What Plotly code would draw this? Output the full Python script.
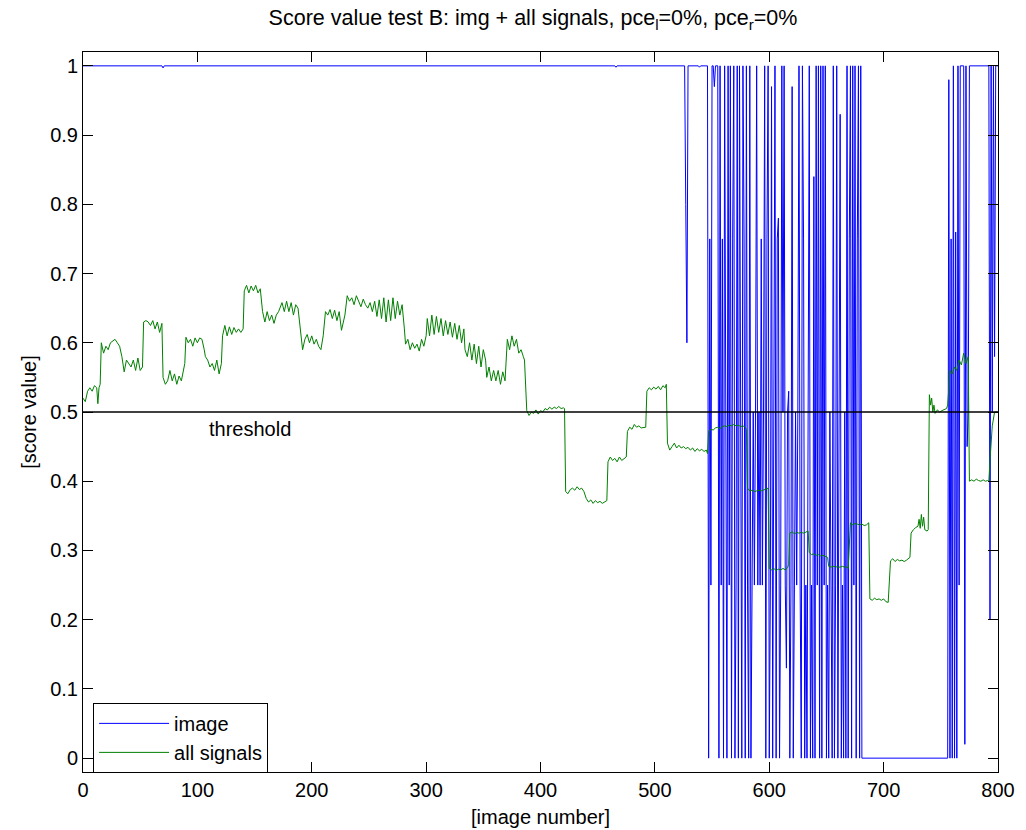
import plotly.graph_objects as go

# ---------------- data ----------------
# "image" score: sparse part (constant stretches) + dense switching parts
img_x_a = [0, 69, 70, 71, 465, 466, 467, 526, 527, 528, 529, 538, 539, 540, 544]
img_y_a = [1, 1, 0.997, 1, 1, 0.998, 1, 1, 0.8, 0.6, 1, 1, 0.998, 1, 1]

img_start_b = 545
img_y_b = [1, 1, 0, 0.75, 0.25, 1, 1, 0.97, 1, 1, 1,            # 545-555
           0, 1, 0.25, 0.75, 0, 1, 0.5, 0, 1, 0.25,              # 556-565
           1, 0, 0.75, 1, 0, 0.25, 1, 0, 1, 0.5,                 # 566-575
           0, 1, 0.75, 0, 1, 0.25, 0, 1, 0, 0.25,                # 576-585
           0.5, 0.25, 0.5, 1, 0.25, 0.5, 0.25, 0.75, 0.25, 0.5,  # 586-595
           1, 0, 0.75, 1, 0, 0.25, 0.97, 0, 0.5, 1,              # 596-605
           0, 0.75, 0.78, 0, 0.25, 1, 0.5, 1, 0.25, 0.13,        # 606-615
           0.5, 0.53, 0, 0.25, 0.97, 0, 0.25, 0.5, 0.25, 0.5,    # 616-625
           1, 0.25, 0, 1, 0.75, 0, 0.25, 0, 0.5, 1,              # 626-635
           0, 0.25, 0, 0.84, 0, 1, 0.25, 1, 0, 1,                # 636-645
           0, 1, 0.25, 1, 0, 0.25, 0, 0.5, 0.25, 0,              # 646-655
           1, 0, 0.25, 1, 0, 0.5, 0.93, 0, 0.25, 0,              # 656-665
           0.5, 0, 1, 0, 0.75, 1, 0, 1, 0.25, 1,                 # 666-675
           0, 0.75, 1, 0, 1, 0]                                  # 676-681

img_x_c = [682, 755]
img_y_c = [0, 0]

img_start_d = 756
img_y_d = [0, 0.98, 0, 0.75, 0, 1, 0, 0.76, 0, 1,                # 756-765
           0.25, 1, 1, 1, 1, 0.02, 1, 0.45, 0.5, 1,              # 766-775
           1, 1, 1, 1, 1, 1, 1, 1, 1, 1,                         # 776-785
           1, 1, 1, 1, 1, 1, 1, 0.2, 1, 0.5,                     # 786-795
           1, 0.58, 1, 1, 1]                                     # 796-800

# "all signals" score
sig_x = [0, 2, 4, 6, 8, 10, 12, 13, 14, 15,
         16, 18, 20, 22, 24, 26, 28, 30, 32, 34, 35,
         36, 38, 40, 42, 44, 46, 48, 50, 52,
         53, 55, 57, 59, 61, 63, 65, 67, 69,
         70, 72, 74, 76, 78, 80, 82, 84, 86, 88, 89,
         90, 92, 94, 96, 98, 100, 102, 104, 106,
         107, 109, 111, 113, 115, 117, 119, 121,
         122, 124, 126, 128, 130, 132, 134, 136, 138, 140,
         141, 143, 145, 147, 149, 151, 153, 155, 156,
         157, 159, 161, 163, 165, 167, 169, 171,
         172, 174, 176, 178, 180, 182, 184, 186, 188, 190,
         192, 194, 196, 198, 200, 202, 204, 206, 208, 210,
         212, 214, 216, 218, 220, 222, 224, 226, 228, 229,
         231, 233, 235, 237, 239, 241, 243, 245, 247, 249,
         251, 253, 255, 257, 259, 261, 263, 265, 267, 269, 271, 273, 275, 277, 279, 281,
         282, 284, 286, 288, 290, 292, 294, 296, 298, 300,
         301, 303, 305, 307, 309, 311, 313, 315, 317, 319, 321, 323, 325, 327, 329, 331, 333,
         334, 336, 338, 340, 342, 344, 346, 348, 350, 352,
         353, 355, 357, 359, 361, 363, 365, 367, 369,
         371, 373, 375, 377, 379, 381, 383, 385, 386,
         388, 390, 392, 394, 396, 398, 400, 402, 404, 406, 408, 410, 412, 414, 416, 418, 420, 421,
         422, 424, 426, 428, 430, 432, 434, 436, 438,
         440, 442, 444, 446, 448, 450, 452, 454, 456, 458,
         459, 461, 463, 465, 467, 469, 471, 473, 475,
         476, 478, 480, 482, 484, 486, 488, 490, 492,
         493, 495, 497, 499, 501, 503, 505, 507, 509, 510,
         511, 513, 515, 517, 519, 521, 523, 525, 527, 529, 531, 533, 535, 537, 539, 541, 543, 545, 546,
         547, 549, 551, 553, 555, 557, 559, 561, 563, 565, 567, 569, 571, 573, 575, 577, 579, 580,
         581, 583, 585, 587, 589, 591, 593, 595, 597, 599,
         600, 602, 604, 606, 608, 610, 612, 614, 616, 617,
         618, 620, 622, 624, 626, 628, 630, 632, 634,
         635, 637, 639, 641, 643, 645, 647, 649, 651,
         652, 654, 656, 658, 660, 662, 664, 666, 668, 669,
         671, 673, 675, 677, 679, 681, 683, 685, 687,
         688, 690, 692, 694, 696, 698, 700, 702, 704,
         706, 708, 710, 712, 714, 716, 718, 720, 722, 723,
         724, 726, 728, 730, 731, 732, 733, 734, 735, 736, 738, 739,
         740, 741, 742, 743, 744, 745, 747, 749, 751, 753, 755, 756,
         757, 758, 760, 762, 764, 766, 768, 770, 772, 774,
         775, 777, 779, 781, 783, 785, 787, 789, 791, 792,
         793, 794, 795, 797, 800]
sig_y = [0.52, 0.515, 0.53, 0.535, 0.53, 0.538, 0.535, 0.512, 0.535, 0.54,
         0.60, 0.585, 0.595, 0.59, 0.60, 0.602, 0.605, 0.60, 0.595, 0.58, 0.565,
         0.558, 0.575, 0.57, 0.565, 0.575, 0.56, 0.578, 0.56, 0.565,
         0.63, 0.632, 0.63, 0.625, 0.632, 0.62, 0.63, 0.615, 0.628,
         0.55, 0.54, 0.545, 0.56, 0.545, 0.555, 0.54, 0.552, 0.545, 0.56, 0.57,
         0.608, 0.60, 0.605, 0.595, 0.607, 0.60, 0.607, 0.605, 0.59,
         0.58, 0.575, 0.565, 0.57, 0.56, 0.575, 0.555, 0.57,
         0.61, 0.625, 0.61, 0.623, 0.612, 0.622, 0.615, 0.62, 0.615, 0.62,
         0.675, 0.683, 0.672, 0.682, 0.675, 0.683, 0.672, 0.678, 0.665,
         0.645, 0.63, 0.645, 0.632, 0.64, 0.628, 0.64, 0.645,
         0.65, 0.658, 0.645, 0.66, 0.645, 0.658, 0.64, 0.655, 0.65, 0.62,
         0.59, 0.605, 0.612, 0.60, 0.61, 0.598, 0.605, 0.595, 0.59, 0.61,
         0.645, 0.64, 0.648, 0.635, 0.647, 0.632, 0.645, 0.618, 0.63, 0.64,
         0.668, 0.66, 0.665, 0.655, 0.668, 0.66, 0.652, 0.663, 0.655, 0.65,
         0.658, 0.645, 0.66, 0.638, 0.662, 0.635, 0.665, 0.63, 0.662, 0.632, 0.665, 0.635, 0.66, 0.64, 0.655, 0.62,
         0.598, 0.605, 0.59, 0.60, 0.592, 0.598, 0.588, 0.605, 0.595, 0.61,
         0.635, 0.61, 0.64, 0.612, 0.638, 0.615, 0.635, 0.61, 0.632, 0.612, 0.63, 0.608, 0.628, 0.605, 0.625, 0.60, 0.62,
         0.59, 0.58, 0.60, 0.575, 0.598, 0.57, 0.595, 0.565, 0.59, 0.575,
         0.55, 0.565, 0.545, 0.56, 0.545, 0.56, 0.54, 0.558, 0.545,
         0.605, 0.59, 0.61, 0.595, 0.605, 0.585, 0.59, 0.58, 0.575,
         0.502, 0.495, 0.50, 0.498, 0.503, 0.497, 0.502, 0.50, 0.505, 0.503, 0.507, 0.504, 0.507, 0.505, 0.508, 0.505, 0.506, 0.505,
         0.385, 0.382, 0.388, 0.39, 0.387, 0.392, 0.388, 0.39, 0.385,
         0.375, 0.37, 0.373, 0.368, 0.372, 0.369, 0.371, 0.368, 0.37, 0.372,
         0.428, 0.435, 0.43, 0.433, 0.428, 0.435, 0.43, 0.432, 0.435,
         0.472, 0.478, 0.475, 0.482, 0.478, 0.48, 0.477, 0.478, 0.478,
         0.53, 0.535, 0.532, 0.536, 0.533, 0.537, 0.532, 0.538, 0.535, 0.54,
         0.455, 0.445, 0.45, 0.455, 0.448, 0.452, 0.448, 0.45, 0.447, 0.449, 0.445, 0.448, 0.443, 0.447, 0.444, 0.446, 0.443, 0.445, 0.44,
         0.472, 0.475, 0.474, 0.477, 0.478, 0.476, 0.479, 0.48, 0.479, 0.481, 0.48, 0.482, 0.48, 0.481, 0.479, 0.48, 0.478, 0.475,
         0.39, 0.386, 0.387, 0.385, 0.386, 0.387, 0.386, 0.387, 0.388, 0.39,
         0.274, 0.272, 0.274, 0.271, 0.273, 0.272, 0.274, 0.272, 0.275, 0.28,
         0.325, 0.327, 0.324, 0.326, 0.325, 0.326, 0.325, 0.327, 0.328,
         0.297, 0.294, 0.295, 0.293, 0.294, 0.292, 0.293, 0.291, 0.29,
         0.277, 0.276, 0.277, 0.276, 0.276, 0.276, 0.277, 0.276, 0.276, 0.274,
         0.34, 0.337, 0.339, 0.338, 0.337, 0.338, 0.336, 0.337, 0.34,
         0.23, 0.228, 0.231, 0.229, 0.23, 0.228, 0.23, 0.226, 0.225,
         0.285, 0.288, 0.284, 0.287, 0.285, 0.286, 0.284, 0.286, 0.288, 0.29,
         0.325, 0.33, 0.333, 0.335, 0.345, 0.332, 0.352, 0.335, 0.348, 0.33, 0.328, 0.33,
         0.525, 0.51, 0.52, 0.50, 0.51, 0.498, 0.503, 0.50, 0.502, 0.503, 0.505, 0.51,
         0.545, 0.56, 0.555, 0.565, 0.56, 0.575, 0.568, 0.585, 0.57, 0.58,
         0.40, 0.402, 0.40, 0.403, 0.401, 0.40, 0.402, 0.40, 0.401, 0.40,
         0.43, 0.46, 0.48, 0.50, 0.50]

threshold_value = 0.5
x_ticks = [0, 100, 200, 300, 400, 500, 600, 700, 800]
y_ticks = [0, 0.1, 0.2, 0.3, 0.4, 0.5, 0.6, 0.7, 0.8, 0.9, 1]
y_tick_text = ["0", "0.1", "0.2", "0.3", "0.4", "0.5", "0.6", "0.7", "0.8", "0.9", "1"]

# ---------------- assemble ----------------
img_x = (img_x_a
         + [img_start_b + i for i in range(len(img_y_b))]
         + img_x_c
         + [img_start_d + i for i in range(len(img_y_d))])
img_y = img_y_a + img_y_b + img_y_c + img_y_d

FONT = "Liberation Sans, Arial, Helvetica, sans-serif"
FS = 20

fig = go.Figure()
fig.add_trace(go.Scatter(x=img_x, y=img_y, mode="lines", name="image",
                         line=dict(color="#0000ff", width=1)))
fig.add_trace(go.Scatter(x=sig_x, y=sig_y, mode="lines", name="all signals",
                         line=dict(color="#008000", width=1)))
fig.add_trace(go.Scatter(x=[0, 800], y=[threshold_value, threshold_value], mode="lines",
                         line=dict(color="black", width=1.3), showlegend=False,
                         hoverinfo="skip"))

fig.add_annotation(x=108, y=0.476, xref="x", yref="y", text="threshold",
                   showarrow=False, xanchor="left", yanchor="middle",
                   font=dict(family=FONT, size=FS, color="black"))

axis_common = dict(showline=True, linecolor="black", linewidth=1, mirror="ticks",
                   ticks="inside", ticklen=10, tickcolor="black", tickwidth=1,
                   showgrid=False, zeroline=False, automargin=False,
                   tickfont=dict(family=FONT, size=FS, color="black"))

fig.update_xaxes(range=[0, 800], tickvals=x_ticks,
                 title=dict(text="[image number]", font=dict(family=FONT, size=FS, color="black"),
                            standoff=9),
                 **axis_common)
fig.update_yaxes(range=[-0.02, 1.02], tickvals=y_ticks, ticktext=y_tick_text,
                 title=dict(text="[score value]", font=dict(family=FONT, size=FS, color="black"),
                            standoff=8),
                 **axis_common)

fig.update_layout(
    width=1026, height=830,
    margin=dict(l=83, r=28, t=52, b=58),
    paper_bgcolor="white", plot_bgcolor="white",
    title=dict(text="Score value test B: img + all signals, pce<sub>l</sub>=0%, pce<sub>r</sub>=0%",
               x=0.5195, xanchor="center", y=0.988, yanchor="top",
               font=dict(family=FONT, size=21.5, color="black")),
    legend=dict(x=0.011, y=0.096, xanchor="left", yanchor="top",
                bgcolor="white", bordercolor="black", borderwidth=1,
                font=dict(family=FONT, size=FS, color="black"),
                itemwidth=70, tracegroupgap=0),
    showlegend=True,
)

fig.write_html("out.html")
